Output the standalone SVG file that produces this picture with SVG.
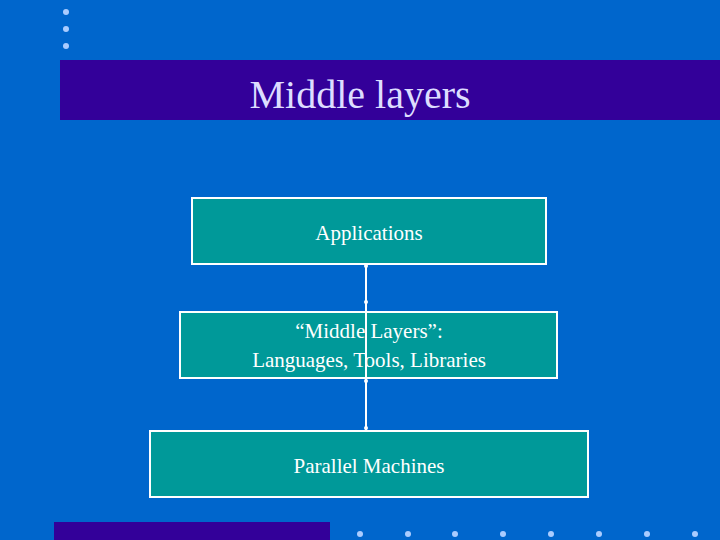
<svg xmlns="http://www.w3.org/2000/svg" width="720" height="540" viewBox="0 0 720 540">
<style>
.box{fill:#009999;stroke:#ffffff;stroke-width:2}
.t{font-family:"Liberation Serif",serif;fill:#ffffff;text-anchor:middle;font-size:21px}
.dot{fill:#aaccff}
</style>
<rect width="720" height="540" fill="#0066cc"/>
<rect x="60" y="60" width="660" height="60" fill="#330099"/>
<text x="360" y="108" class="t" style="font-size:40px;fill:#ddddff">Middle layers</text>
<g class="dot"><circle cx="66" cy="12" r="3"/><circle cx="66" cy="29" r="3"/><circle cx="66" cy="46" r="3"/>
<circle cx="360" cy="534" r="3"/><circle cx="408" cy="534" r="3"/><circle cx="455" cy="534" r="3"/><circle cx="503" cy="534" r="3"/><circle cx="551" cy="534" r="3"/><circle cx="599" cy="534" r="3"/><circle cx="647" cy="534" r="3"/><circle cx="695" cy="534" r="3"/></g>
<rect x="54" y="522" width="276" height="18" fill="#330099"/>
<g id="n1"><rect class="box" x="192" y="198" width="354" height="66"/><text class="t" x="369" y="240">Applications</text></g>
<g id="n2"><rect class="box" x="180" y="312" width="377" height="66"/><text class="t" x="369" y="338">“Middle Layers”:</text><text class="t" x="369" y="367">Languages, Tools, Libraries</text></g>
<g id="n3"><rect class="box" x="150" y="431" width="438" height="66"/><text class="t" x="369" y="473">Parallel Machines</text></g>
<g id="connectors" stroke="#ffffff" stroke-width="2" fill="#ffffff">
<line x1="366" y1="265" x2="366" y2="430"/>
<circle cx="366" cy="266" r="2" stroke="none"/><circle cx="366" cy="302" r="2" stroke="none"/><circle cx="366" cy="381" r="2" stroke="none"/><circle cx="366" cy="428" r="2" stroke="none"/>
</g>
</svg>
